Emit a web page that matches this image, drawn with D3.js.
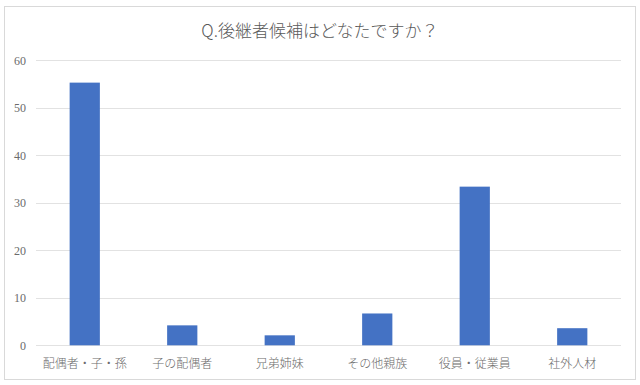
<!DOCTYPE html>
<html>
<head>
<meta charset="utf-8">
<script src="https://cdn.jsdelivr.net/npm/d3@7"></script>
<style>
  body { margin: 0; background: #fff; }
  text { font-family: "Liberation Serif", "Noto Sans CJK JP", serif; }
</style>
</head>
<body>
<div id="chart"></div>
<script>
// data
var categories = ["配偶者・子・孫", "子の配偶者", "兄弟姉妹", "その他親族", "役員・従業員", "社外人材"];
var values = [55.3, 4.2, 2.1, 6.7, 33.4, 3.6];
var yTicks = [0, 10, 20, 30, 40, 50, 60];
var title = "Q.後継者候補はどなたですか？";

var width = 640, height = 385;
var margin = {top: 60, right: 19, bottom: 40, left: 36};

var svg = d3.select("#chart")
  .append("svg")
  .attr("width", width)
  .attr("height", height);

// outer frame
svg.append("rect")
  .attr("x", 4.5).attr("y", 6.5)
  .attr("width", 631).attr("height", 373)
  .attr("fill", "#fff")
  .attr("stroke", "#d9d9d9");

svg.append("text")
  .attr("x", 320).attr("y", 37)
  .attr("text-anchor", "middle")
  .style("font-size", "17px")
  .style("font-weight", "300")
  .style("font-family", "Noto Sans CJK JP, sans-serif")
  .style("fill", "#595959")
  .text(title);

var x = d3.scaleBand()
  .domain(categories)
  .range([margin.left, width - margin.right])
  .paddingInner(0.69)
  .paddingOuter(0.345);

var y = d3.scaleLinear()
  .domain([0, 60])
  .range([345.3, 60.3]);

// gridlines
svg.append("g")
  .selectAll("line")
  .data(yTicks)
  .enter()
  .append("line")
  .attr("x1", margin.left)
  .attr("x2", width - margin.right)
  .attr("y1", d => Math.round(y(d)) + 0.5)
  .attr("y2", d => Math.round(y(d)) + 0.5)
  .attr("stroke", "#e2e2e2")
  .attr("stroke-width", 1);

// y axis labels
var yAxis = svg.append("g")
  .attr("transform", "translate(" + (margin.left - 10) + ",0)")
  .call(d3.axisLeft(y).tickValues(yTicks).tickSize(0).tickPadding(0));
yAxis.select(".domain").remove();
yAxis.selectAll("text")
  .style("font-size", "12px")
  .style("fill", "#6b6b6b")
  .style("font-family", "Liberation Serif, serif");

// bars
svg.selectAll("bars")
  .data(categories)
  .enter()
  .append("rect")
  .attr("x", d => x(d))
  .attr("y", (d, i) => y(values[i]))
  .attr("width", x.bandwidth())
  .attr("height", (d, i) => y(0) - y(values[i]))
  .attr("fill", "#4472c4");

// x axis labels
var xAxis = svg.append("g")
  .attr("transform", "translate(0," + y(0) + ")")
  .call(d3.axisBottom(x).tickSize(0).tickPadding(14));
xAxis.select(".domain").remove();
xAxis.selectAll("text")
  .style("font-size", "12px")
  .style("fill", "#6b6b6b")
  .style("font-family", "Noto Sans CJK JP, sans-serif")
  .style("font-weight", "300");
</script>
</body>
</html>
